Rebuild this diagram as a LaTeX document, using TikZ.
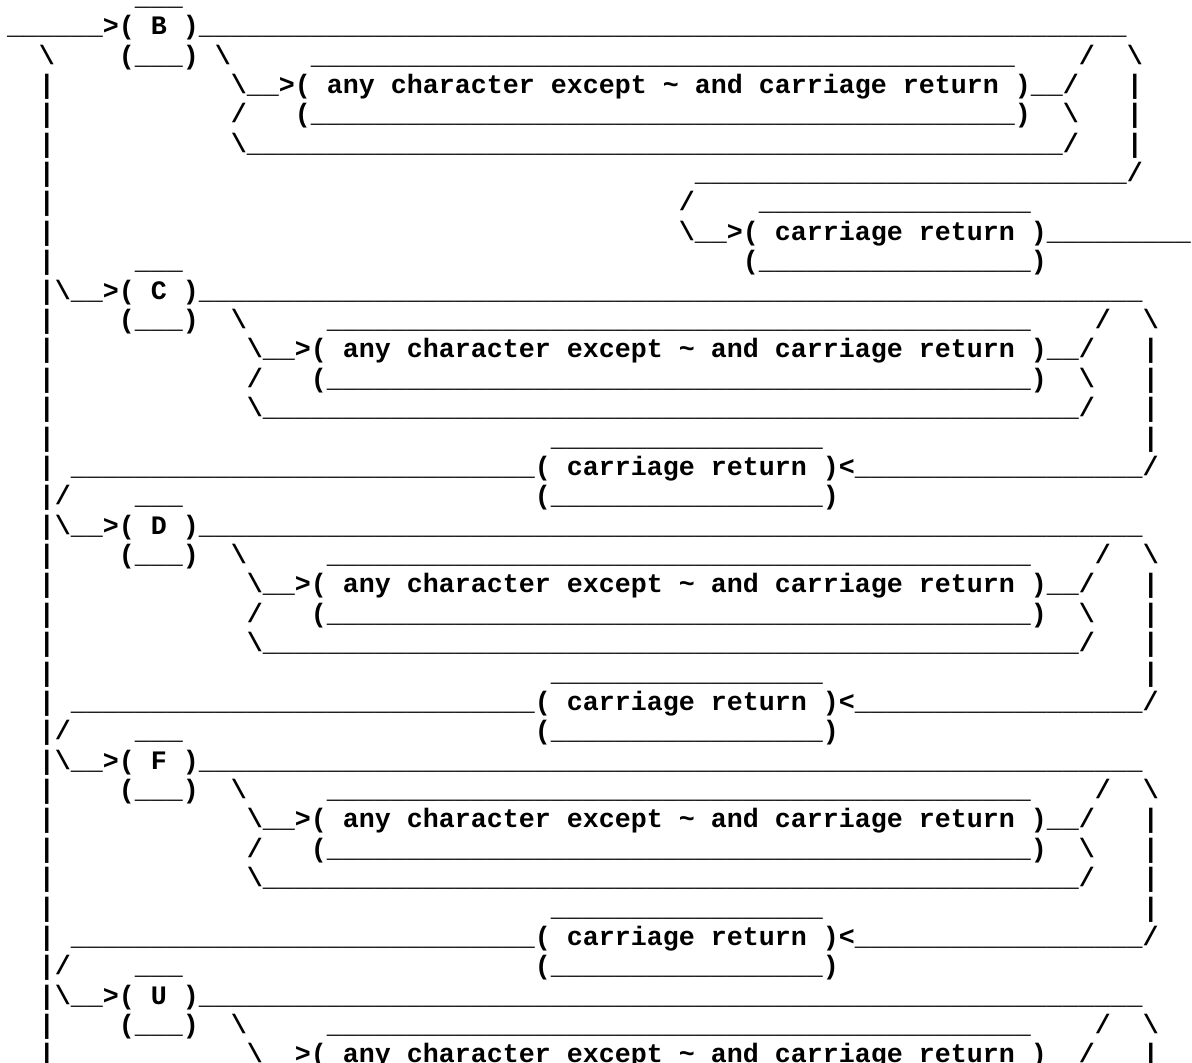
\documentclass[tikz,border=0pt]{standalone}
\usepackage{fontspec}
\newfontfamily\asciifont{Liberation Mono}
\frenchspacing

% runs of blanks and underscores for the fixed-pitch rows
\ExplSyntaxOn
\cs_new:Npn \spc #1 { \prg_replicate:nn {#1} { \tex_space:D } }
\cs_new:Npn \und #1 { \prg_replicate:nn {#1} { \textunderscore } }
\ExplSyntaxOff
\newcommand\bsl{\textbackslash}
\newcommand\anychar{( any character except \textasciitilde{} and carriage return )}
\newcommand\crbox{( carriage return )}

% one text row of the syntax diagram: #1 row number, #2 row text
\newcommand\asciirow[2]{%
  \node[rowtext] (row#1) at (7,{-(5.3+(#1-1)*29.38)}) {#2};}

\begin{document}
\begin{tikzpicture}[x=1pt,y=1pt,
  rowtext/.style={anchor=base west,inner sep=0pt,outer sep=0pt,
    font=\asciifont\bfseries\fontsize{26.66pt}{29.38pt}\selectfont,text=black}]
\useasboundingbox (0,0) rectangle (1192,-1063);
\fill[white] (0,0) rectangle (1192,-1063);
\clip (0,0) rectangle (1192,-1063);

% block B: entry, repeated characters, carriage return exit
\asciirow{1}{\spc{8}\und{3}}
\asciirow{2}{\und{6}>( B )\und{58}}
\asciirow{3}{\spc{2}\bsl\spc{4}(\und{3})\spc{1}\bsl\spc{5}\und{44}\spc{4}/\spc{2}\bsl}
\asciirow{4}{\spc{2}|\spc{11}\bsl\und{2}>\anychar\und{2}/\spc{3}|}
\asciirow{5}{\spc{2}|\spc{11}/\spc{3}(\und{44})\spc{2}\bsl\spc{3}|}
\asciirow{6}{\spc{2}|\spc{11}\bsl\und{51}/\spc{3}|}
\asciirow{7}{\spc{2}|\spc{40}\und{27}/}
\asciirow{8}{\spc{2}|\spc{39}/\spc{4}\und{17}}
\asciirow{9}{\spc{2}|\spc{39}\bsl\und{2}>\crbox\und{9}}
\asciirow{10}{\spc{2}|\spc{5}\und{3}\spc{35}(\und{17})}

% block C
\asciirow{11}{\spc{2}|\bsl\und{2}>( C )\und{59}}
\asciirow{12}{\spc{2}|\spc{4}(\und{3})\spc{2}\bsl\spc{5}\und{44}\spc{4}/\spc{2}\bsl}
\asciirow{13}{\spc{2}|\spc{12}\bsl\und{2}>\anychar\und{2}/\spc{3}|}
\asciirow{14}{\spc{2}|\spc{12}/\spc{3}(\und{44})\spc{2}\bsl\spc{3}|}
\asciirow{15}{\spc{2}|\spc{12}\bsl\und{51}/\spc{3}|}
\asciirow{16}{\spc{2}|\spc{31}\und{17}\spc{20}|}
\asciirow{17}{\spc{2}|\spc{1}\und{29}\crbox<\und{18}/}
\asciirow{18}{\spc{2}|/\spc{4}\und{3}\spc{22}(\und{17})}

% block D
\asciirow{19}{\spc{2}|\bsl\und{2}>( D )\und{59}}
\asciirow{20}{\spc{2}|\spc{4}(\und{3})\spc{2}\bsl\spc{5}\und{44}\spc{4}/\spc{2}\bsl}
\asciirow{21}{\spc{2}|\spc{12}\bsl\und{2}>\anychar\und{2}/\spc{3}|}
\asciirow{22}{\spc{2}|\spc{12}/\spc{3}(\und{44})\spc{2}\bsl\spc{3}|}
\asciirow{23}{\spc{2}|\spc{12}\bsl\und{51}/\spc{3}|}
\asciirow{24}{\spc{2}|\spc{31}\und{17}\spc{20}|}
\asciirow{25}{\spc{2}|\spc{1}\und{29}\crbox<\und{18}/}
\asciirow{26}{\spc{2}|/\spc{4}\und{3}\spc{22}(\und{17})}

% block F
\asciirow{27}{\spc{2}|\bsl\und{2}>( F )\und{59}}
\asciirow{28}{\spc{2}|\spc{4}(\und{3})\spc{2}\bsl\spc{5}\und{44}\spc{4}/\spc{2}\bsl}
\asciirow{29}{\spc{2}|\spc{12}\bsl\und{2}>\anychar\und{2}/\spc{3}|}
\asciirow{30}{\spc{2}|\spc{12}/\spc{3}(\und{44})\spc{2}\bsl\spc{3}|}
\asciirow{31}{\spc{2}|\spc{12}\bsl\und{51}/\spc{3}|}
\asciirow{32}{\spc{2}|\spc{31}\und{17}\spc{20}|}
\asciirow{33}{\spc{2}|\spc{1}\und{29}\crbox<\und{18}/}
\asciirow{34}{\spc{2}|/\spc{4}\und{3}\spc{22}(\und{17})}

% block U
\asciirow{35}{\spc{2}|\bsl\und{2}>( U )\und{59}}
\asciirow{36}{\spc{2}|\spc{4}(\und{3})\spc{2}\bsl\spc{5}\und{44}\spc{4}/\spc{2}\bsl}
\asciirow{37}{\spc{2}|\spc{12}\bsl\und{2}>\anychar\und{2}/\spc{3}|}
\end{tikzpicture}
\end{document}
